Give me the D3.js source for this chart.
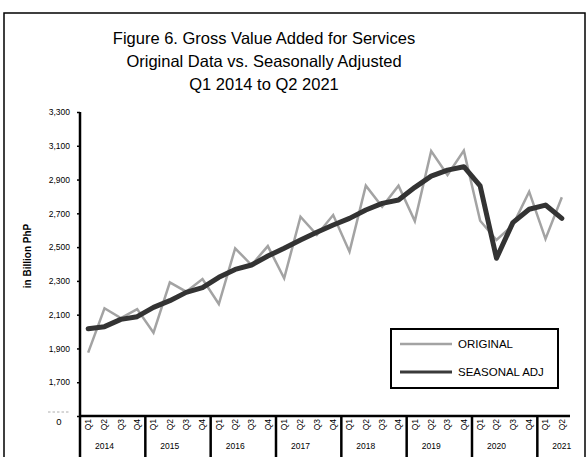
<!DOCTYPE html>
<html>
<head>
<meta charset="utf-8">
<script src="https://cdn.jsdelivr.net/npm/d3@7"></script>
<style>
  html, body { margin: 0; padding: 0; background: #fff; }
  svg { display: block; font-family: "Liberation Sans", Arial, sans-serif; }
</style>
</head>
<body>
<svg id="chart" width="587" height="457"></svg>
<script>
const titleLines = ["Figure 6. Gross Value Added for Services", "Original Data vs. Seasonally Adjusted", "Q1 2014 to Q2 2021"];
const years = ["2014", "2015", "2016", "2017", "2018", "2019", "2020", "2021"];
const quarterLabels = ["Q1","Q2","Q3","Q4","Q1","Q2","Q3","Q4","Q1","Q2","Q3","Q4","Q1","Q2","Q3","Q4",
                       "Q1","Q2","Q3","Q4","Q1","Q2","Q3","Q4","Q1","Q2","Q3","Q4","Q1","Q2"];
const original = [1875, 2138, 2080, 2133, 1993, 2291, 2236, 2311, 2163, 2493, 2394, 2506, 2315, 2680, 2572, 2690,
                  2473, 2864, 2739, 2864, 2654, 3069, 2927, 3071, 2656, 2542, 2630, 2828, 2548, 2795];
const seasonal = [2017, 2029, 2072, 2088, 2143, 2183, 2232, 2260, 2321, 2368, 2394, 2447, 2493, 2542, 2588, 2631,
                  2670, 2720, 2759, 2779, 2854, 2920, 2956, 2976, 2862, 2434, 2645, 2724, 2749, 2670];
const yTicks = [1500, 1700, 1900, 2100, 2300, 2500, 2700, 2900, 3100, 3300];
const yLabel = "in Billion PhP";
const breakLabel = "0";
const legendNames = ["ORIGINAL", "SEASONAL ADJ"];

(function () {
const svg = d3.select("#chart");
const pL = 80, pR = 570, pT = 112, pB = 416;
const idx = d3.range(quarterLabels.length);
const x = d3.scaleBand().domain(idx).range([pL, pR]).paddingInner(0).paddingOuter(0);
const y = d3.scaleLinear().domain([1500, 3300]).range([pB, pT]);
const cx = i => x(i) + x.bandwidth() / 2;

// outer frame
svg.append("rect").attr("x", 4).attr("y", 13).attr("width", 581).attr("height", 460)
  .attr("fill", "none").attr("stroke", "#000").attr("stroke-width", 1.5);

// title
svg.append("g").selectAll("text").data(titleLines).join("text")
  .attr("x", 264).attr("y", (d, i) => 43.5 + i * 23)
  .attr("text-anchor", "middle").attr("font-size", 16.5).attr("fill", "#000")
  .text(d => d);

// y axis
const yAxis = svg.append("g").attr("transform", `translate(${pL},0)`)
  .call(d3.axisLeft(y).tickValues(yTicks).tickSize(3).tickPadding(7).tickFormat(d3.format(",")));
yAxis.select(".domain").remove();
yAxis.selectAll(".tick line").attr("stroke", "#000").attr("stroke-width", 1.5);
yAxis.selectAll(".tick text").attr("font-size", 8.5).attr("font-family", "Liberation Sans, Arial, sans-serif").attr("fill", "#000");
// the lowest label is hidden behind the axis break: only a faint sliver remains
yAxis.selectAll(".tick").filter(d => d === yTicks[0]).select("text").remove();
svg.append("line").attr("x1", 48).attr("x2", 69).attr("y1", y(yTicks[0]) - 4).attr("y2", y(yTicks[0]) - 4)
  .attr("stroke", "#9a9a9a").attr("stroke-width", 0.8).attr("stroke-dasharray", "2.5,2");
svg.append("text").attr("x", 59).attr("y", 425).attr("text-anchor", "middle")
  .attr("font-size", 9.5).attr("fill", "#000").text(breakLabel);

svg.append("line").attr("x1", pL).attr("x2", pL).attr("y1", pT).attr("y2", 457)
  .attr("stroke", "#000").attr("stroke-width", 2.5);

// y label
svg.append("text").attr("transform", "translate(31,256) rotate(-90)")
  .attr("text-anchor", "middle").attr("font-size", 10).attr("font-weight", "bold").attr("fill", "#000")
  .text(yLabel);

// x axis
const xAxis = svg.append("g").attr("transform", `translate(0,${pB})`)
  .call(d3.axisBottom(x).tickSize(0).tickFormat(i => quarterLabels[i]));
xAxis.select(".domain").remove();
xAxis.selectAll(".tick text")
  .attr("font-size", 8.5).attr("font-family", "Liberation Sans, Arial, sans-serif").attr("fill", "#000")
  .attr("transform", "rotate(-90)").attr("text-anchor", "end").attr("x", -3).attr("y", 0).attr("dy", "0.35em");
svg.append("line").attr("x1", pL).attr("x2", pR).attr("y1", pB).attr("y2", pB)
  .attr("stroke", "#000").attr("stroke-width", 2.5);

// year separators and labels
svg.append("g").selectAll("line").data(years.slice(1)).join("line")
  .attr("x1", (d, i) => x((i + 1) * 4)).attr("x2", (d, i) => x((i + 1) * 4))
  .attr("y1", pB).attr("y2", 457).attr("stroke", "#000").attr("stroke-width", 2.5);
svg.append("g").selectAll("text").data(years).join("text")
  .attr("x", (d, i) => cx(i * 4 + 1)).attr("y", 449)
  .attr("text-anchor", "middle").attr("font-size", 8.5).attr("fill", "#000").text(d => d);

// lines
const line = d3.line().x((d, i) => cx(i)).y(d => y(d));
svg.append("path").datum(original).attr("d", line).attr("fill", "none")
  .attr("stroke", "#a3a3a3").attr("stroke-width", 2.5).attr("stroke-linejoin", "miter");
svg.append("path").datum(seasonal).attr("d", line).attr("fill", "none")
  .attr("stroke", "#333333").attr("stroke-width", 5).attr("stroke-linejoin", "round").attr("stroke-linecap", "round");

// legend
const lg = svg.append("g");
lg.append("rect").attr("x", 391).attr("y", 329).attr("width", 167).attr("height", 59)
  .attr("fill", "#fff").attr("stroke", "#000").attr("stroke-width", 2);
const legendColors = ["#a3a3a3", "#3a3a3a"];
const legendWidths = [2.5, 3];
lg.selectAll("line.k").data(legendNames).join("line").attr("class", "k")
  .attr("x1", 400).attr("x2", 452).attr("y1", (d, i) => 344 + i * 28).attr("y2", (d, i) => 344 + i * 28)
  .attr("stroke", (d, i) => legendColors[i]).attr("stroke-width", (d, i) => legendWidths[i]);
lg.selectAll("text").data(legendNames).join("text")
  .attr("x", 458).attr("y", (d, i) => 344 + i * 28).attr("dy", "0.35em")
  .attr("font-size", 11.5).attr("fill", "#000").text(d => d);
})();
</script>
</body>
</html>
